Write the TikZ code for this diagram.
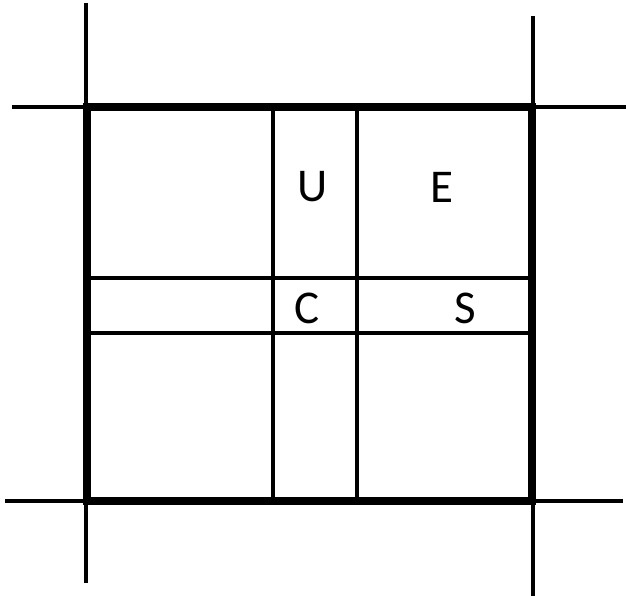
\documentclass[tikz,border=0pt]{standalone}
\usepackage{fontspec}
\setmainfont{Carlito}
\tikzset{
  thin line/.style={line width=4.5pt, line cap=butt},
  thick line/.style={line width=7.5pt, line cap=butt},
  inner line/.style={line width=4pt},
  lbl/.style={font=\fontsize{47}{50}\selectfont, inner sep=0pt}
}
\begin{document}
\begin{tikzpicture}[x=1pt,y=-1pt]
\useasboundingbox (0,0) rectangle (626,596);
% extended thin lines
\coordinate (lt) at (86,3);   \coordinate (lb) at (86,583);
\coordinate (rt) at (533,16); \coordinate (rb) at (533,596);
\coordinate (tl) at (12,107); \coordinate (tr) at (626,107);
\coordinate (bl) at (5,501);  \coordinate (br) at (623,501);
\draw[thin line] (lt) -- (lb);
\draw[thin line] (rt) -- (rb);
\draw[thin line] (tl) -- (tr);
\draw[thin line] (bl) -- (br);
% thick square
\coordinate (A) at (87,107); \coordinate (B) at (532,501);
\draw[thick line, line join=miter] (A) rectangle (B);
% inner lines
\coordinate (v1t) at (273,107); \coordinate (v1b) at (273,501);
\coordinate (v2t) at (357,107); \coordinate (v2b) at (357,501);
\coordinate (h1l) at (87,278);  \coordinate (h1r) at (532,278);
\coordinate (h2l) at (87,333);  \coordinate (h2r) at (532,333);
\draw[inner line] (v1t) -- (v1b);
\draw[inner line] (v2t) -- (v2b);
\draw[inner line] (h1l) -- (h1r);
\draw[inner line] (h2l) -- (h2r);
% labels
\node[lbl] (U) at (313,187) {U};
\node[lbl] (E) at (442,187) {E};
\node[lbl] (C) at (307,308) {C};
\node[lbl] (S) at (465,308) {S};
\end{tikzpicture}
\end{document}
